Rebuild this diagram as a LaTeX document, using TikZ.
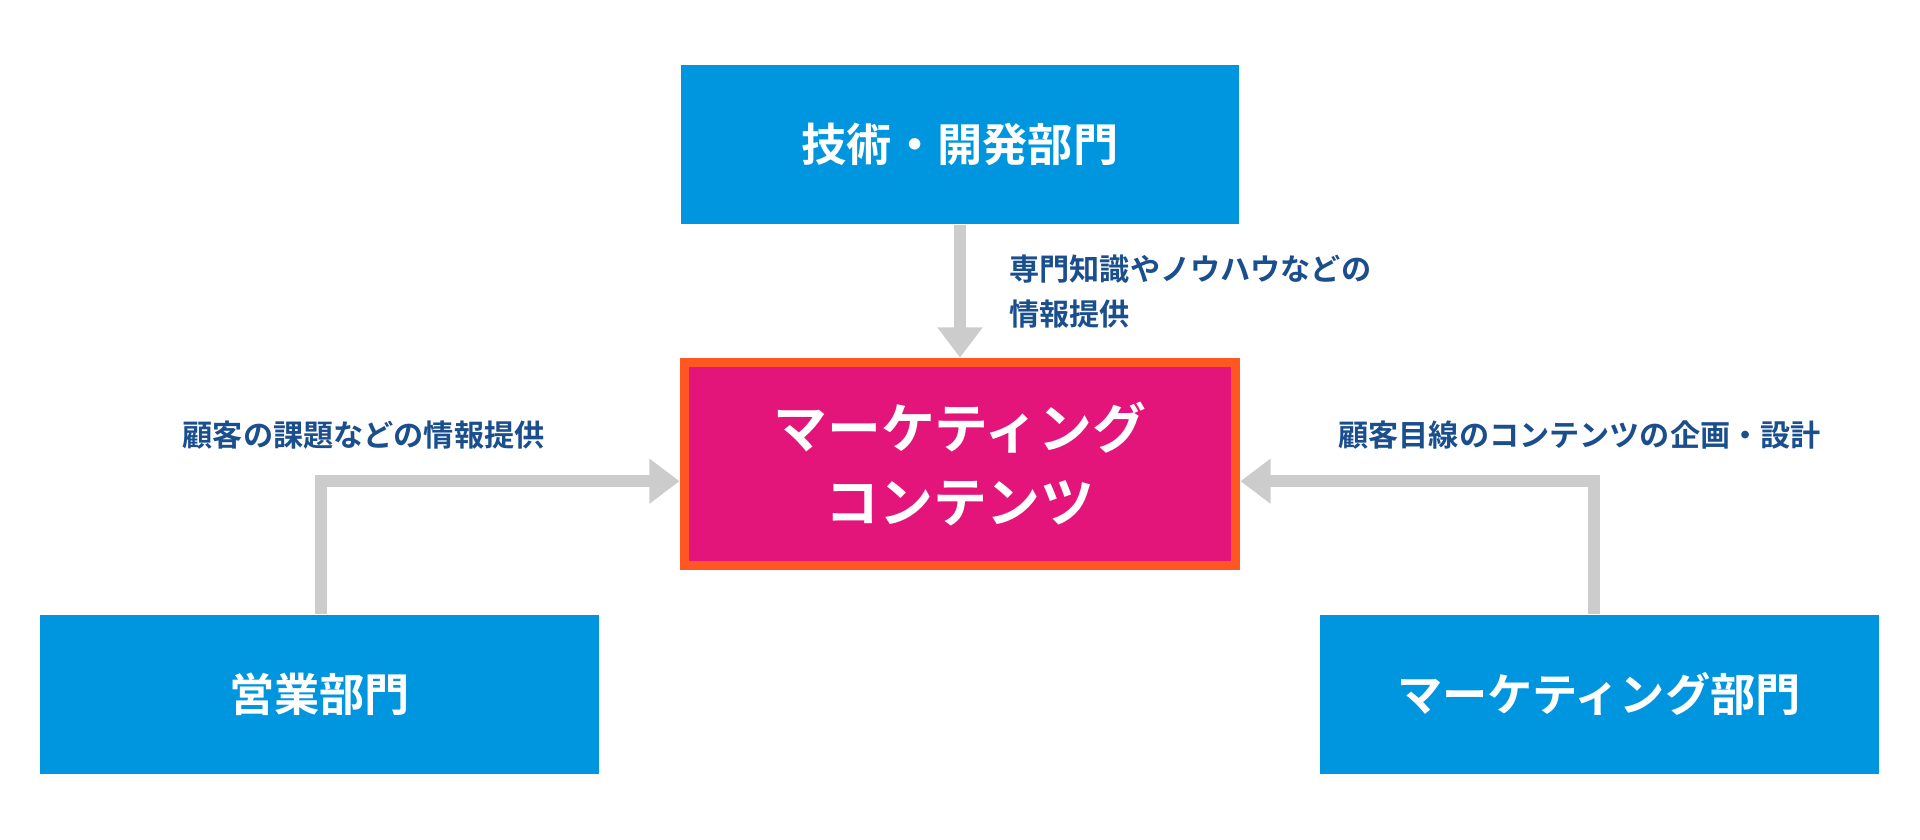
\documentclass[tikz,border=0pt]{standalone}
\usepackage{fontspec}
\setmainfont{Noto Sans CJK JP}[BoldFont={* Bold}]
\usetikzlibrary{calc,arrows.meta}
\definecolor{deptblue}{HTML}{0096DF}
\definecolor{contpink}{HTML}{E3157A}
\definecolor{contedge}{HTML}{FF5722}
\definecolor{flowgray}{HTML}{CCCCCC}
\definecolor{labelblue}{HTML}{1A4E8C}
\tikzset{
    dept/.style={fill=deptblue, text=white, font=\bfseries\fontsize{10.5}{12}\selectfont,
        minimum width=4.56cm, minimum height=1.3cm, inner sep=0pt},
    flow/.style={draw=flowgray, line width=2.8pt, -{Triangle[length=7pt,width=10pt]}},
    note/.style={text=labelblue, font=\bfseries\fontsize{7}{10.5}\selectfont}
}
\begin{document}
\begin{tikzpicture}[x=0.01cm, y=-0.01cm]
            \useasboundingbox (0,0) rectangle (1568,686);
            \node (T) at (784,118) [dept] {技術・開発部門};
            \node (C) at (784,379) [fill=contpink, draw=contedge, line width=2.2pt, text=white,
                align=center, font=\bfseries\fontsize{12.5}{17}\selectfont,
                minimum width=4.5cm, minimum height=1.66cm] {マーケティング\\コンテンツ};
            \node (S) at (261,567) [dept] {営業部門};
            \node (M) at (1306,567) [dept] {マーケティング部門};

            \coordinate (SL) at (262,393);
            \coordinate (MR) at (1302,393);
            \draw [flow] (T) -- (C);
            \draw [flow] (S.north -| SL) -- (SL) -- (SL -| C.west);
            \draw [flow] (M.north -| MR) -- (MR) -- (MR -| C.east);

                \node at (812,238) [note, anchor=west, align=left] {専門知識やノウハウなどの\\情報提供};
                \node at (297,355) [note] {顧客の課題などの情報提供};
                \node at (1290,355) [note] {顧客目線のコンテンツの企画・設計};
        \end{tikzpicture}
\end{document}
